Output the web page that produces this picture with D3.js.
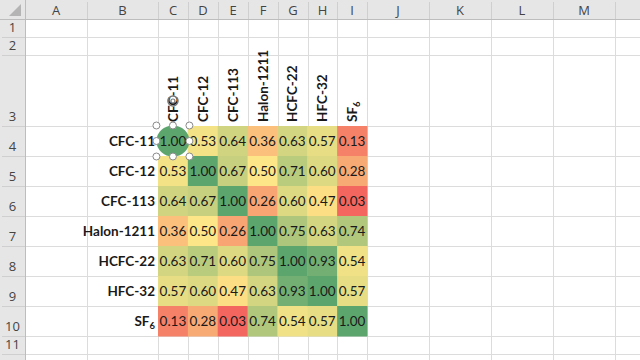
<!DOCTYPE html>
<html>
<head>
<meta charset="utf-8">
<script src="https://cdn.jsdelivr.net/npm/d3@7"></script>
<style>
  html, body { margin: 0; padding: 0; background: #ffffff; }
  svg { display: block; }
</style>
</head>
<body>
<svg id="chart" width="640" height="360"></svg>
<script>
// ---- data ----
const gases = ["CFC-11", "CFC-12", "CFC-113", "Halon-1211", "HCFC-22", "HFC-32", "SF6"];
const rowCFC11    = [1.00, 0.53, 0.64, 0.36, 0.63, 0.57, 0.13];
const rowCFC12    = [0.53, 1.00, 0.67, 0.50, 0.71, 0.60, 0.28];
const rowCFC113   = [0.64, 0.67, 1.00, 0.26, 0.60, 0.47, 0.03];
const rowHalon1211= [0.36, 0.50, 0.26, 1.00, 0.75, 0.63, 0.74];
const rowHCFC22   = [0.63, 0.71, 0.60, 0.75, 1.00, 0.93, 0.54];
const rowHFC32    = [0.57, 0.60, 0.47, 0.63, 0.93, 1.00, 0.57];
const rowSF6      = [0.13, 0.28, 0.03, 0.74, 0.54, 0.57, 1.00];
const matrix = [rowCFC11, rowCFC12, rowCFC113, rowHalon1211, rowHCFC22, rowHFC32, rowSF6];

// spreadsheet frame (layout)
const colLetters = ["A","B","C","D","E","F","G","H","I","J","K","L","M"];
const colEdges = [25, 87, 158, 188, 218, 248, 278, 308, 337, 367, 429, 491, 553, 615, 680];
const rowEdges = [19, 37, 55, 126, 156, 186, 216, 246, 276, 306, 336, 354, 372];

const svg = d3.select("#chart");
const font = "Lato, 'Open Sans', 'Liberation Sans', sans-serif";
const fs = 13.5;
const hdrFont = "'Segoe UI', 'Open Sans', 'Noto Sans', sans-serif";

// gridlines
const grid = svg.append("g");
colEdges.forEach(x => grid.append("line").attr("x1", x + 0.5).attr("x2", x + 0.5)
  .attr("y1", 19).attr("y2", 360).attr("stroke", "#dcdcdc").attr("stroke-width", 1));
rowEdges.forEach(y => grid.append("line").attr("x1", 25).attr("x2", 640)
  .attr("y1", y + 0.5).attr("y2", y + 0.5).attr("stroke", "#dcdcdc").attr("stroke-width", 1));

// headers
svg.append("rect").attr("x", 0).attr("y", 0).attr("width", 640).attr("height", 19).attr("fill", "#e6e6e6");
svg.append("rect").attr("x", 0).attr("y", 0).attr("width", 25).attr("height", 360).attr("fill", "#e6e6e6");
svg.append("line").attr("x1", 0).attr("x2", 640).attr("y1", 19.5).attr("y2", 19.5).attr("stroke", "#bdbdbd");
svg.append("line").attr("x1", 25.5).attr("x2", 25.5).attr("y1", 0).attr("y2", 360).attr("stroke", "#bdbdbd");
svg.append("path").attr("d", "M 21 4 L 21 16 L 9 16 Z").attr("fill", "#b4b4b4");

colEdges.slice(1).forEach(x1 => svg.append("line").attr("x1", x1 + 0.5).attr("x2", x1 + 0.5)
  .attr("y1", 2).attr("y2", 19).attr("stroke", "#cfcfcf"));
colLetters.forEach((c, i) => {
  const x0 = colEdges[i], x1 = colEdges[i + 1];
  svg.append("text").attr("x", (x0 + x1) / 2).attr("y", 15).attr("text-anchor", "middle")
    .attr("font-family", hdrFont).attr("font-size", 13).attr("fill", "#444").text(c);
});
rowEdges.slice(1).forEach((y1, i) => {
  svg.append("line").attr("x1", 2).attr("x2", 25).attr("y1", y1 + 0.5).attr("y2", y1 + 0.5).attr("stroke", "#cfcfcf");
  if (i < 11) svg.append("text").attr("x", 12.5).attr("y", y1 - 5).attr("text-anchor", "middle")
    .attr("font-family", hdrFont).attr("font-size", 13).attr("fill", "#444").text(i + 1);
});

// heatmap scales
const x = d3.scaleBand().domain(gases).range([colEdges[2], colEdges[9]]);
const y = d3.scaleBand().domain(gases).range([rowEdges[3], rowEdges[10]]);
const flat = matrix.flat();
const color = d3.scaleLinear()
  .domain([d3.min(flat), 0.5, d3.max(flat)])
  .range(["#f3665f", "#fde688", "#5ca66e"]);

const cells = [];
matrix.forEach((row, i) => row.forEach((v, j) => cells.push({ r: gases[i], c: gases[j], v })));

svg.append("g").selectAll("rect").data(cells).join("rect")
  .attr("x", d => x(d.c)).attr("y", d => y(d.r))
  .attr("width", x.bandwidth() + 0.5).attr("height", y.bandwidth() + 0.5)
  .attr("fill", d => color(d.v));

// decorative selected oval shape over C4 (cell behind it cleared)
const ox = x(gases[0]) + x.bandwidth() / 2, oy = y(gases[0]) + y.bandwidth() / 2;
svg.append("rect").attr("x", x(gases[0])).attr("y", y(gases[0]))
  .attr("width", x.bandwidth()).attr("height", y.bandwidth()).attr("fill", "#ffffff");
svg.append("ellipse").attr("cx", ox).attr("cy", oy).attr("rx", 16.5).attr("ry", 15.5)
  .attr("fill", color(matrix[0][0]));

// labels
function gasLabel(sel, name) {
  if (name === "SF6") {
    sel.append("tspan").text("SF");
    sel.append("tspan").attr("font-size", "70%").attr("dy", 3).text("6");
  } else sel.text(name);
}

svg.append("g").selectAll("text").data(cells).join("text")
  .attr("x", d => x(d.c) + x.bandwidth() / 2)
  .attr("y", d => y(d.r) + y.bandwidth() / 2 + 5)
  .attr("text-anchor", "middle")
  .attr("font-family", font).attr("font-size", fs).attr("fill", "#1a1a1a")
  .text(d => d3.format(".2f")(d.v));

// row labels
svg.append("g").selectAll("text").data(gases).join("text")
  .attr("x", colEdges[2] - 3)
  .attr("y", d => y(d) + y.bandwidth() / 2 + 5)
  .attr("text-anchor", "end")
  .attr("font-family", font).attr("font-size", fs).attr("font-weight", "bold").attr("fill", "#1a1a1a")
  .each(function (d) { gasLabel(d3.select(this), d); });

// column labels (rotated)
svg.append("g").selectAll("text").data(gases).join("text")
  .attr("transform", d => `translate(${x(d) + x.bandwidth() / 2 + 5},${rowEdges[3] - 4}) rotate(-90)`)
  .attr("text-anchor", "start")
  .attr("font-family", font).attr("font-size", fs).attr("font-weight", "bold").attr("fill", "#1a1a1a")
  .each(function (d) { gasLabel(d3.select(this), d); });

// selection handles for the oval
const hx = [ox - 16.5, ox, ox + 16.5], hy = [oy - 15.5, oy, oy + 15.5];
const handles = [];
hx.forEach((a, i) => hy.forEach((b, k) => { if (!(i === 1 && k === 1)) handles.push([a, b]); }));
svg.append("g").selectAll("circle").data(handles).join("circle")
  .attr("cx", d => d[0]).attr("cy", d => d[1]).attr("r", 3.5)
  .attr("fill", "#fff").attr("stroke", "#8a8a8a").attr("stroke-width", 1);
svg.append("circle").attr("cx", ox).attr("cy", oy - 40).attr("r", 5)
  .attr("fill", "none").attr("stroke", "#777").attr("stroke-width", 1.5);
svg.append("circle").attr("cx", ox).attr("cy", oy - 40).attr("r", 2)
  .attr("fill", "none").attr("stroke", "#777").attr("stroke-width", 1.2);
</script>
</body>
</html>
